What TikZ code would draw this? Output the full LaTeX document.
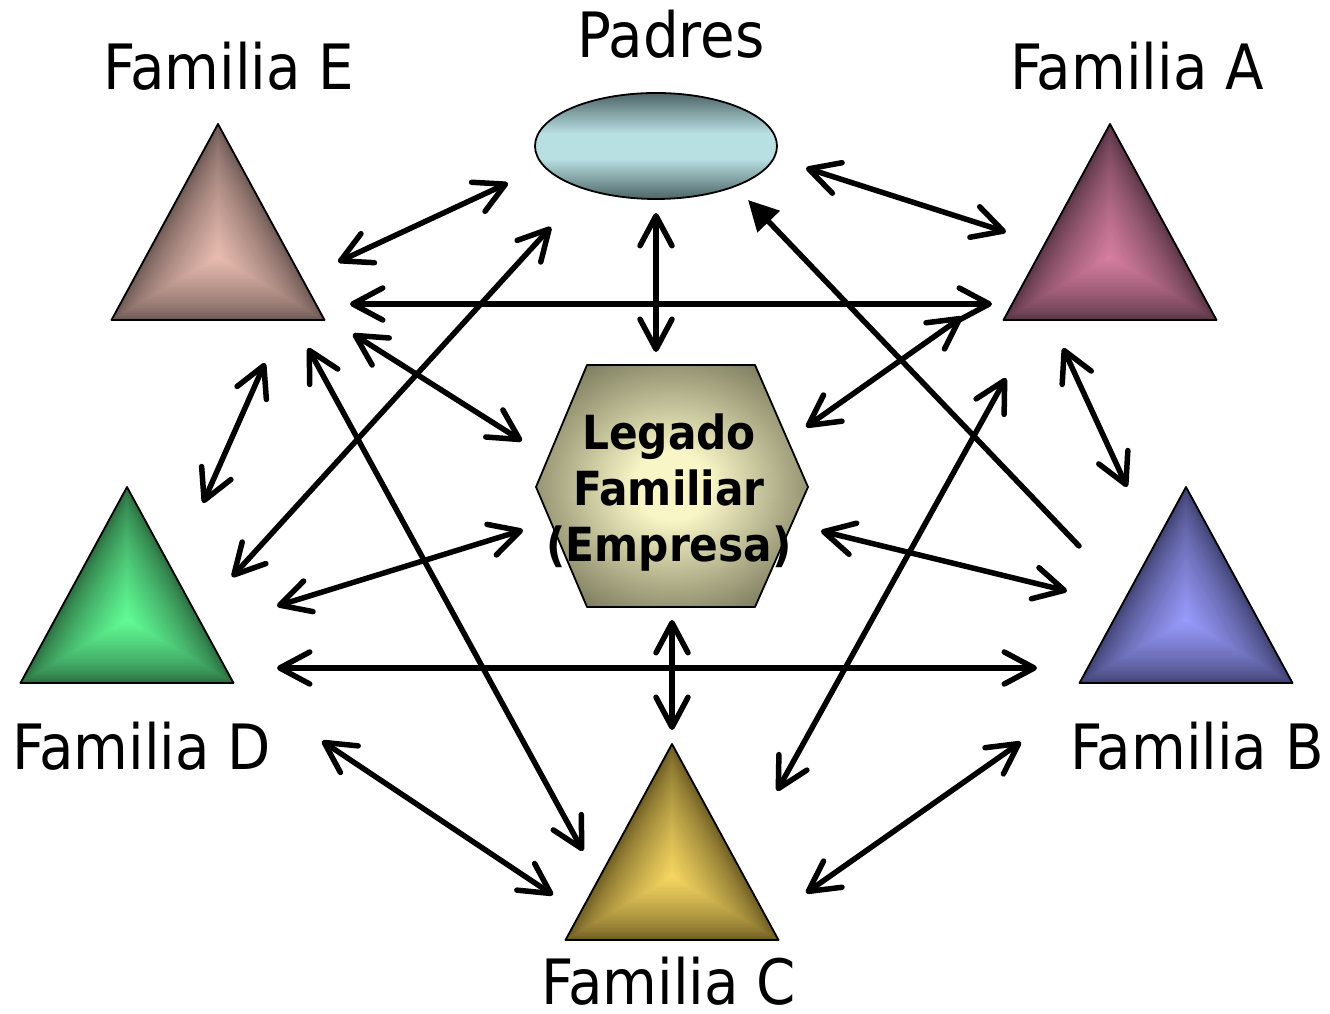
\documentclass[tikz,border=0pt]{standalone}
\usepackage{fontspec}
\setmainfont{DejaVu Sans Condensed}
\newfontfamily\hexfont{DejaVu Sans Condensed Bold}
\usetikzlibrary{arrows.meta,calc}

% fill colours
\definecolor{elldark}{HTML}{4D6566}
\definecolor{elllight}{HTML}{B8DFE2}
\definecolor{hexdark}{HTML}{7B7A5C}
\definecolor{hexlight}{HTML}{F8F5C6}
\definecolor{eDark}{HTML}{6B5753}\definecolor{eLight}{HTML}{EABDB1}
\definecolor{aDark}{HTML}{573444}\definecolor{aLight}{HTML}{D87FA1}
\definecolor{dDark}{HTML}{2A6A3E}\definecolor{dLight}{HTML}{62FF98}
\definecolor{bDark}{HTML}{3E406E}\definecolor{bLight}{HTML}{9A9CFF}
\definecolor{cDark}{HTML}{6B5A22}\definecolor{cLight}{HTML}{F8D862}

\pgfdeclareverticalshading{ellglow}{100bp}{color(0bp)=(elldark); color(25bp)=(elldark);
  color(44bp)=(elllight); color(56bp)=(elllight); color(75bp)=(elldark); color(100bp)=(elldark)}
\pgfdeclareradialshading{hexglow}{\pgfpoint{0bp}{0bp}}{color(0bp)=(hexlight); color(7bp)=(hexlight);
  color(30bp)=(hexdark); color(50bp)=(hexdark)}

% bevelled triangle: name, centre x, base y, light colour, dark colour
\newcommand\beveltri[5]{%
  \coordinate (#1-l) at (#2-106.5,#3);
  \coordinate (#1-r) at (#2+106.5,#3);
  \coordinate (#1-t) at (#2,#3+196);
  \coordinate (#1-c) at (#2,#3+63.3);
  \foreach \k in {0,...,47}{%
    \pgfmathsetmacro\s{1-\k/48}%
    \pgfmathtruncatemacro\mix{100*(\k/48)^0.7}%
    \fill[#4!\mix!#5] ($(#1-c)!\s!(#1-l)$) -- ($(#1-c)!\s!(#1-r)$) -- ($(#1-c)!\s!(#1-t)$) -- cycle;
  }%
  \draw[shapeline] (#1-l) -- (#1-r) -- (#1-t) -- cycle;
}

\begin{document}
\begin{tikzpicture}[x=1pt,y=1pt,
  shapeline/.style={draw=black, line width=1.8pt, line join=round},
  lab/.style={font=\fontsize{62.5}{62.5}\selectfont, inner sep=0pt, anchor=base},
  hextext/.style={font=\hexfont\fontsize{47}{56}\selectfont, align=center, inner sep=0pt},
  link/.style={line width=5.5pt, line cap=round,
    {Straight Barb[length=30pt,width=32pt,round]}-{Straight Barb[length=30pt,width=32pt,round]}},
  oneway/.style={line width=5.5pt, line cap=round, -{Triangle[length=30pt,width=30pt]}}]

\useasboundingbox (0,0) rectangle (1330,1014);

% parents
\shade[shading=ellglow] (656,868) ellipse [x radius=121, y radius=53];
\draw[shapeline] (656,868) ellipse [x radius=121, y radius=53];

% family business
\coordinate (hx1) at (587,649);
\coordinate (hx2) at (755,649);
\coordinate (hx3) at (808,527);
\coordinate (hx4) at (755,407);
\coordinate (hx5) at (587,407);
\coordinate (hx6) at (536,527);
\shade[shading=hexglow] (hx1) -- (hx2) -- (hx3) -- (hx4) -- (hx5) -- (hx6) -- cycle;
\draw[shapeline] (hx1) -- (hx2) -- (hx3) -- (hx4) -- (hx5) -- (hx6) -- cycle;
\node[hextext] (legado) at (669,521) {Legado\\Familiar\\(Empresa)};

% families
\beveltri{famE}{218}{694}{eLight}{eDark}
\beveltri{famA}{1110}{694}{aLight}{aDark}
\beveltri{famD}{127}{331}{dLight}{dDark}
\beveltri{famB}{1186}{331}{bLight}{bDark}
\beveltri{famC}{672}{74}{cLight}{cDark}

% labels
\node[lab] (padres) at (671,956) {Padres};
\node[lab] (labE) at (229,924) {Familia E};
\node[lab] (labA) at (1137,924) {Familia A};
\node[lab] (labD) at (142,244) {Familia D};
\node[lab] (labB) at (1197,244) {Familia B};
\node[lab] (labC) at (669,9) {Familia C};

% connector end points
\coordinate (pE1) at (508,831);  \coordinate (pE2) at (338,752);
\coordinate (pA1) at (806,846);  \coordinate (pA2) at (1006,782);
\coordinate (pL1) at (656,801);  \coordinate (pL2) at (656,662);
\coordinate (bP1) at (1079,468); \coordinate (bP2) at (748,814);
\coordinate (eA1) at (350,710);  \coordinate (eA2) at (992,710);
\coordinate (eL1) at (353,680);  \coordinate (eL2) at (522,573);
\coordinate (aL1) at (962,697);  \coordinate (aL2) at (806,587);
\coordinate (eD1) at (265,651);  \coordinate (eD2) at (203,511);
\coordinate (pD1) at (551,787);  \coordinate (pD2) at (232,437);
\coordinate (eC1) at (308,666);  \coordinate (eC2) at (583,163);
\coordinate (dL1) at (277,408);  \coordinate (dL2) at (523,484);
\coordinate (dB1) at (277,346);  \coordinate (dB2) at (1037,346);
\coordinate (aB1) at (1063,666); \coordinate (aB2) at (1127,527);
\coordinate (aC1) at (1006,636); \coordinate (aC2) at (777,223);
\coordinate (lB1) at (821,483);  \coordinate (lB2) at (1067,423);
\coordinate (lC1) at (672,394);  \coordinate (lC2) at (672,284);
\coordinate (dC1) at (322,273);  \coordinate (dC2) at (553,119);
\coordinate (cB1) at (806,121);  \coordinate (cB2) at (1021,272);

% connectors
\draw[link] (pE1) -- (pE2);
\draw[link] (pA1) -- (pA2);
\draw[link] (pL1) -- (pL2);
\draw[oneway] (bP1) -- (bP2);
\draw[link] (eA1) -- (eA2);
\draw[link] (eL1) -- (eL2);
\draw[link] (aL1) -- (aL2);
\draw[link] (eD1) -- (eD2);
\draw[link] (pD1) -- (pD2);
\draw[link] (eC1) -- (eC2);
\draw[link] (dL1) -- (dL2);
\draw[link] (dB1) -- (dB2);
\draw[link] (aB1) -- (aB2);
\draw[link] (aC1) -- (aC2);
\draw[link] (lB1) -- (lB2);
\draw[link] (lC1) -- (lC2);
\draw[link] (dC1) -- (dC2);
\draw[link] (cB1) -- (cB2);
\end{tikzpicture}
\end{document}
